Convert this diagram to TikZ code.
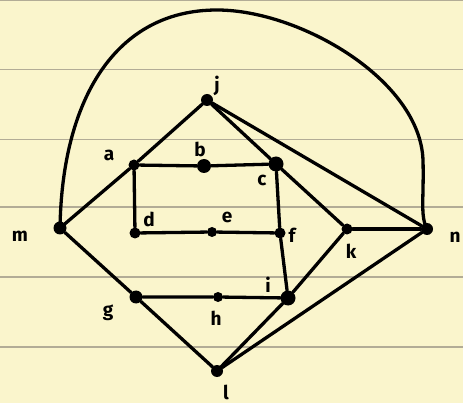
\documentclass[tikz,border=0pt]{standalone}
\usepackage{fontspec}
\setsansfont{Fira Sans}
\definecolor{paper}{RGB}{250,245,204}
\definecolor{rule}{RGB}{178,172,150}
\begin{document}
\begin{tikzpicture}[x=1pt,y=-1pt,
  dot/.style={circle,fill=black,inner sep=0pt,minimum size=#1},
  dot/.default=10pt,
  edge/.style={line width=3.3pt,line cap=round,line join=round},
  lab/.style={font=\sffamily\bfseries\fontsize{19}{21}\selectfont,inner sep=0pt}]
\fill[paper] (0,0) rectangle (463,403);
\useasboundingbox (0,0) rectangle (463,403);
\foreach \yy in {0.8,69.5,139.5,207,277,347}
  \draw[rule,line width=1.4pt] (0,\yy) -- (463,\yy);
% nodes
\node[dot=12pt] (j) at (207,100) {};
\node[dot=11pt] (a) at (134,165) {};
\node[dot=14pt] (b) at (204,166) {};
\node[dot=15pt] (c) at (276,164) {};
\node[dot=11pt] (d) at (135,233) {};
\node[dot=10pt] (e) at (212,232) {};
\node[dot=11pt] (f) at (280,233) {};
\node[dot=13pt] (m) at (60,228) {};
\node[dot=11pt] (k) at (347,229) {};
\node[dot=12pt] (n) at (427,229) {};
\node[dot=13pt] (g) at (136,297) {};
\node[dot=10pt] (h) at (218,297) {};
\node[dot=15pt] (i) at (288,298) {};
\node[dot=12pt] (l) at (217,371) {};
% labels
\node[lab] (lj) at (217,86) {j};
\node[lab] (la) at (109,155) {a};
\node[lab] (lb) at (200,149) {b};
\node[lab] (lc) at (262,180) {c};
\node[lab] (ld) at (149,219) {d};
\node[lab] (le) at (227,217) {e};
\node[lab] (lf) at (292,235) {f};
\node[lab] (lm) at (20,236) {m};
\node[lab] (lk) at (351,251) {k};
\node[lab] (ln) at (455,237) {n};
\node[lab] (lg) at (108,313) {g};
\node[lab] (lh) at (216,318) {h};
\node[lab] (li) at (268,285) {i};
\node[lab] (ll) at (226,392) {l};
% edges
\draw[edge] (j) -- (a);
\draw[edge] (j) -- (c);
\draw[edge] (j) -- (n);
\draw[edge] (a) -- (b) -- (c);
\draw[edge] (a) -- (d);
\draw[edge] (a) -- (m);
\draw[edge] (c) -- (f) -- (i);
\draw[edge] (c) -- (k);
\draw[edge] (d) -- (e) -- (f);
\draw[edge] (m) -- (g);
\draw[edge] (g) -- (h) -- (i);
\draw[edge] (g) -- (l);
\draw[edge] (k) -- (n);
\draw[edge] (k) -- (i);
\draw[edge] (i) -- (l);
\draw[edge] (l) -- (n);
\draw[edge] (m.center) .. controls (62,100) and (115,10) .. (217,10)
  .. controls (300,10) and (420,80) .. (423,160)
  .. controls (424,200) and (420,215) .. (n.center);
\end{tikzpicture}
\end{document}
